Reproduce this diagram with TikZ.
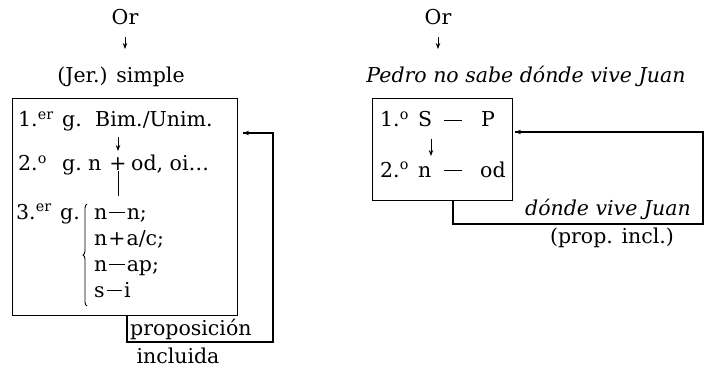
\documentclass[tikz,border=0pt]{standalone}
\usepackage{fontspec}
\setmainfont{DejaVu Serif}
\usetikzlibrary{arrows.meta,decorations.pathreplacing,calc}
\newcommand\dsh[1][0.75em]{\rule[0.27em]{#1}{0.06em}}
\begin{document}
\begin{tikzpicture}[x=1pt,y=-1pt,
  txt/.style={inner sep=0pt, font=\fontsize{20.5}{24}\selectfont},
  boxframe/.style={draw, line width=1.2pt, inner sep=0pt},
  conn/.style={line width=1.2pt},
  arr/.style={line width=0.9pt, -{Stealth[length=6pt,width=4.5pt]}},
  bracestyle/.style={line width=0.9pt, decorate, decoration={brace,amplitude=4pt}}]
\useasboundingbox (0,0) rectangle (713,369);
% ---------------- left diagram ----------------
\node[txt, anchor=base] (orL) at (125,25) {Or};
\node[txt, anchor=base] (jer) at (121,83) {(Jer.) simple};
\draw[arr] ($(orL.base)+(0,12)$) -- ($(orL.base)+(0,24)$);
\node[boxframe, anchor=north west, minimum width=225pt, minimum height=217pt] (boxL) at (12,98) {};
\node[txt, anchor=base west] (l1) at (18,127) {\makebox[44pt][l]{1.\textsuperscript{er}}\makebox[33pt][l]{g.}Bim./Unim.};
\node[txt, anchor=base west] (l2) at (18,171) {\makebox[44pt][l]{2.\textsuperscript{o}}g.};
\node[txt, anchor=base west] (l2n) at (88,171) {n};
\node[txt, anchor=base] (plus) at (118,171) {+};
\node[txt, anchor=base west] (l2c) at (131,171) {od, oi\dots};
\draw[arr] ($(plus.base)+(0,-34)$) -- ($(plus.base)+(0,-20)$);
\draw[line width=0.9pt] (plus.base) -- ($(plus.base)+(0,25)$);
\node[txt, anchor=base west] (l3) at (16,219) {\makebox[44pt][l]{3.\textsuperscript{er}}g.};
\draw[bracestyle] (87,306) -- (87,204);
\node[txt, anchor=base west] (i1) at (94,219) {n\kern2pt\dsh\kern2pt n;};
\node[txt, anchor=base west] (i2) at (94,245) {n\kern1pt+\kern1pt a/c;};
\node[txt, anchor=base west] (i3) at (94,271) {n\kern2pt\dsh\kern2pt ap;};
\node[txt, anchor=base west] (i4) at (94,297) {s\kern2pt\dsh\kern2pt i};
\node[txt, anchor=base west] (prop) at (130,335) {proposición};
\node[txt, anchor=base] (incl) at (178,363) {incluida};
\coordinate (pL1) at (127,342);
\coordinate (pL2) at (273,342);
\coordinate (pL3) at (273,133);
\coordinate (tipL) at (243,133);
\draw[conn] (boxL.south -| pL1) -- (pL1) -- (pL2) -- (pL3) -- (tipL);
\draw[arr] ($(tipL)+(3,0)$) -- (tipL);
% ---------------- right diagram ----------------
\node[txt, anchor=base] (orR) at (438,25) {Or};
\node[txt, anchor=base] (pedro) at (526,83) {\itshape Pedro no sabe dónde vive Juan};
\draw[arr] ($(orR.base)+(0,12)$) -- ($(orR.base)+(0,24)$);
\node[boxframe, anchor=north west, minimum width=140pt, minimum height=102pt] (boxR) at (372,98) {};
\node[txt, anchor=base west] (r1) at (380,127) {\makebox[38pt][l]{1.\textsuperscript{o}}\makebox[26pt][l]{S}\makebox[37pt][l]{\dsh[0.85em]}P};
\node[txt, anchor=base west] (r2) at (380,177) {\makebox[38pt][l]{2.\textsuperscript{o}}\makebox[26pt][l]{n}\makebox[36pt][l]{\dsh[0.85em]}od};
\draw[arr] ($(r1.base west)+(51,12)$) -- ($(r1.base west)+(51,29)$);
\node[txt, anchor=base] (djuan) at (608,215) {\itshape dónde vive Juan};
\node[txt, anchor=base] (pincl) at (612,243) {(prop. incl.)};
\coordinate (pR1) at (453,224);
\coordinate (pR2) at (703,224);
\coordinate (pR3) at (703,132);
\coordinate (tipR) at (515,132);
\draw[conn] (boxR.south -| pR1) -- (pR1) -- (pR2) -- (pR3) -- (tipR);
\draw[arr] ($(tipR)+(3,0)$) -- (tipR);
\end{tikzpicture}
\end{document}
